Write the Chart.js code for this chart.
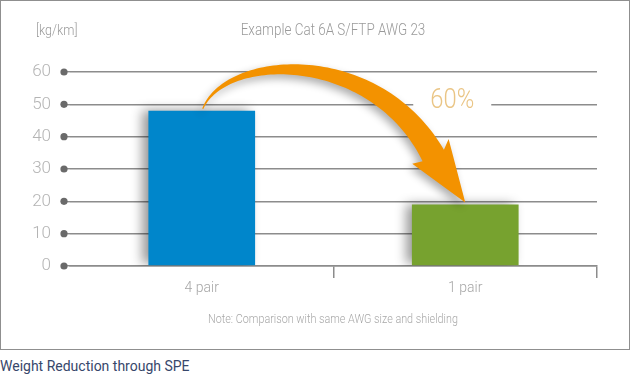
<!DOCTYPE html>
<html>
<head>
<meta charset="utf-8">
<script src="https://cdn.jsdelivr.net/npm/chart.js@4/dist/chart.umd.min.js"></script>
<style>
  html, body { margin: 0; padding: 0; background: #fff; width: 630px; height: 381px; overflow: hidden; }
  #wrap { position: absolute; left: 0; top: 0; width: 630px; height: 350px; }
  #frame { position: absolute; left: 0; top: 0; width: 630px; height: 350px; box-sizing: border-box; border: 1px solid #8f8f8f; pointer-events: none; }
  #caption { position: absolute; left: 0; top: 358px; font-family: Roboto, "Open Sans", sans-serif; font-size: 14px; color: #37476b; }
</style>
</head>
<body>
<div id="wrap"><canvas id="c" width="630" height="350"></canvas></div>
<div id="frame"></div>
<div id="caption">Weight Reduction through SPE</div>
<script>
const categories = ['4 pair', '1 pair'];
const weights = [48, 19];
const barColors = ['#0086cb', '#77a22f'];
const yMin = 0, yMax = 60, yStep = 10;
const unitLabel = '[kg/km]';
const chartTitle = 'Example Cat 6A S/FTP AWG 23';
const reductionLabel = '60%';
const noteText = 'Note: Comparison with same AWG size and shielding';

const FONT = 'Roboto, "Liberation Sans", sans-serif';
const GRID = '#8c8c8c';

function narrowText(ctx, text, x, y, sx, align) {
  ctx.save();
  ctx.translate(x, y);
  ctx.scale(sx, 1);
  ctx.textAlign = align;
  ctx.fillText(text, 0, 0);
  ctx.restore();
}

const decor = {
  id: 'decor',
  beforeDatasetsDraw(chart) {
    const ctx = chart.ctx;
    ctx.save();
    ctx.shadowColor = 'rgba(0,0,0,0.42)';
    ctx.shadowBlur = 11;
    ctx.shadowOffsetX = -6;
    ctx.shadowOffsetY = -1;
  },
  afterDatasetsDraw(chart) {
    const ctx = chart.ctx;
    ctx.restore();
    const y = chart.scales.y;
    // dots at gridline starts
    ctx.save();
    ctx.fillStyle = '#6a6a6a';
    for (let v = yMin; v <= yMax; v += yStep) {
      ctx.beginPath();
      ctx.arc(chart.chartArea.left - 6, y.getPixelForValue(v), 3.6, 0, Math.PI * 2);
      ctx.fill();
    }
    ctx.restore();

    const bar0 = chart.getDatasetMeta(0).data[0];
    const bar1 = chart.getDatasetMeta(0).data[1];
    // 60% label with white background over gridline
    const lx = bar1.x - 13, ly = y.getPixelForValue(50) - 3;
    ctx.save();
    ctx.fillStyle = '#fff';
    ctx.fillRect(lx - 39, ly - 14, 78, 28);
    ctx.font = '300 27px ' + FONT;
    ctx.fillStyle = '#eac585';
    ctx.textBaseline = 'middle';
    narrowText(ctx, reductionLabel, lx, ly, 0.88, 'center');
    ctx.restore();

    // curved arrow from bar 0 top to bar 1 top
    const sx = bar0.x + 1, sy = bar0.y - 2;
    const ex = bar1.x, ey = bar1.y - 2;
    const P0 = [sx, sy];
    const P1 = [sx + 23, sy - 56];
    const P2 = [sx + 172, sy - 62];
    const P3 = [ex - 32, ey - 47];
    const bez = (t, i) => {
      const u = 1 - t;
      return u*u*u*P0[i] + 3*u*u*t*P1[i] + 3*u*t*t*P2[i] + t*t*t*P3[i];
    };
    const der = (t, i) => {
      const u = 1 - t;
      return 3*u*u*(P1[i]-P0[i]) + 6*u*t*(P2[i]-P1[i]) + 3*t*t*(P3[i]-P2[i]);
    };
    const left = [], right = [];
    const N = 80;
    for (let k = 0; k <= N; k++) {
      const t = k / N;
      const px = bez(t, 0), py = bez(t, 1);
      let tx = der(t, 0), ty = der(t, 1);
      const L = Math.hypot(tx, ty) || 1; tx /= L; ty /= L;
      const nx = -ty, ny = tx;
      const w = (1.2 + 23 * Math.pow(t, 1.15)) / 2;
      left.push([px + nx * w, py + ny * w]);
      right.push([px - nx * w, py - ny * w]);
    }
    let dx = ex - P3[0], dy = ey - P3[1];
    const DL = Math.hypot(dx, dy); dx /= DL; dy /= DL;
    const nx = -dy, ny = dx;
    ctx.save();
    ctx.shadowColor = 'rgba(0,0,0,0.33)';
    ctx.shadowBlur = 8;
    ctx.shadowOffsetX = -3;
    ctx.shadowOffsetY = 4;
    ctx.fillStyle = '#f39200';
    ctx.beginPath();
    ctx.moveTo(left[0][0], left[0][1]);
    for (const p of left) ctx.lineTo(p[0], p[1]);
    ctx.lineTo(P3[0] + nx * 22 - dx * 5, P3[1] + ny * 22 - dy * 5);
    ctx.lineTo(ex, ey);
    ctx.lineTo(P3[0] - nx * 22 - dx * 5, P3[1] - ny * 22 - dy * 5);
    for (let k = right.length - 1; k >= 0; k--) ctx.lineTo(right[k][0], right[k][1]);
    ctx.closePath();
    ctx.fill();
    ctx.restore();
  },
  afterDraw(chart) {
    const ctx = chart.ctx;
    ctx.save();
    ctx.fillStyle = '#9a9a9a';
    ctx.textBaseline = 'middle';
    ctx.font = '300 15px ' + FONT;
    narrowText(ctx, unitLabel, 36, 31, 0.84, 'left');
    ctx.font = '300 16px ' + FONT;
    narrowText(ctx, chartTitle, 333, 31, 0.84, 'center');
    ctx.fillStyle = '#a8a8a8';
    ctx.font = '300 13.5px ' + FONT;
    narrowText(ctx, noteText, 333, 320, 0.8, 'center');
    ctx.restore();
  }
};

new Chart(document.getElementById('c'), {
  type: 'bar',
  data: {
    labels: categories,
    datasets: [{
      data: weights,
      backgroundColor: barColors,
      borderWidth: 0,
      barPercentage: 0.81,
      categoryPercentage: 0.5
    }]
  },
  options: {
    responsive: false,
    animation: false,
    events: [],
    layout: { padding: { top: 72, right: 33, left: 0, bottom: 0 } },
    plugins: { legend: { display: false }, tooltip: { enabled: false }, title: { display: false } },
    scales: {
      x: {
        offset: true,
        grid: {
          drawOnChartArea: false,
          drawTicks: true,
          tickLength: 12,
          lineWidth: 1.5,
          color: (c) => c.index === 0 ? 'rgba(0,0,0,0)' : GRID
        },
        border: { display: true, color: GRID, width: 1.5 },
        ticks: { color: '#a6a6a6', font: { family: FONT, size: 14, weight: '300' }, padding: 2 },
        afterFit(s) { s.height = 84; }
      },
      y: {
        min: yMin, max: yMax,
        ticks: { stepSize: yStep, color: '#b4b4b4', font: { family: FONT, size: 17, weight: '300' }, padding: 13 },
        grid: { color: GRID, lineWidth: 1.4, drawTicks: true, tickLength: 6 },
        border: { display: false },
        afterFit(s) { s.width = 70; }
      }
    }
  },
  plugins: [decor]
});
</script>
</body>
</html>
